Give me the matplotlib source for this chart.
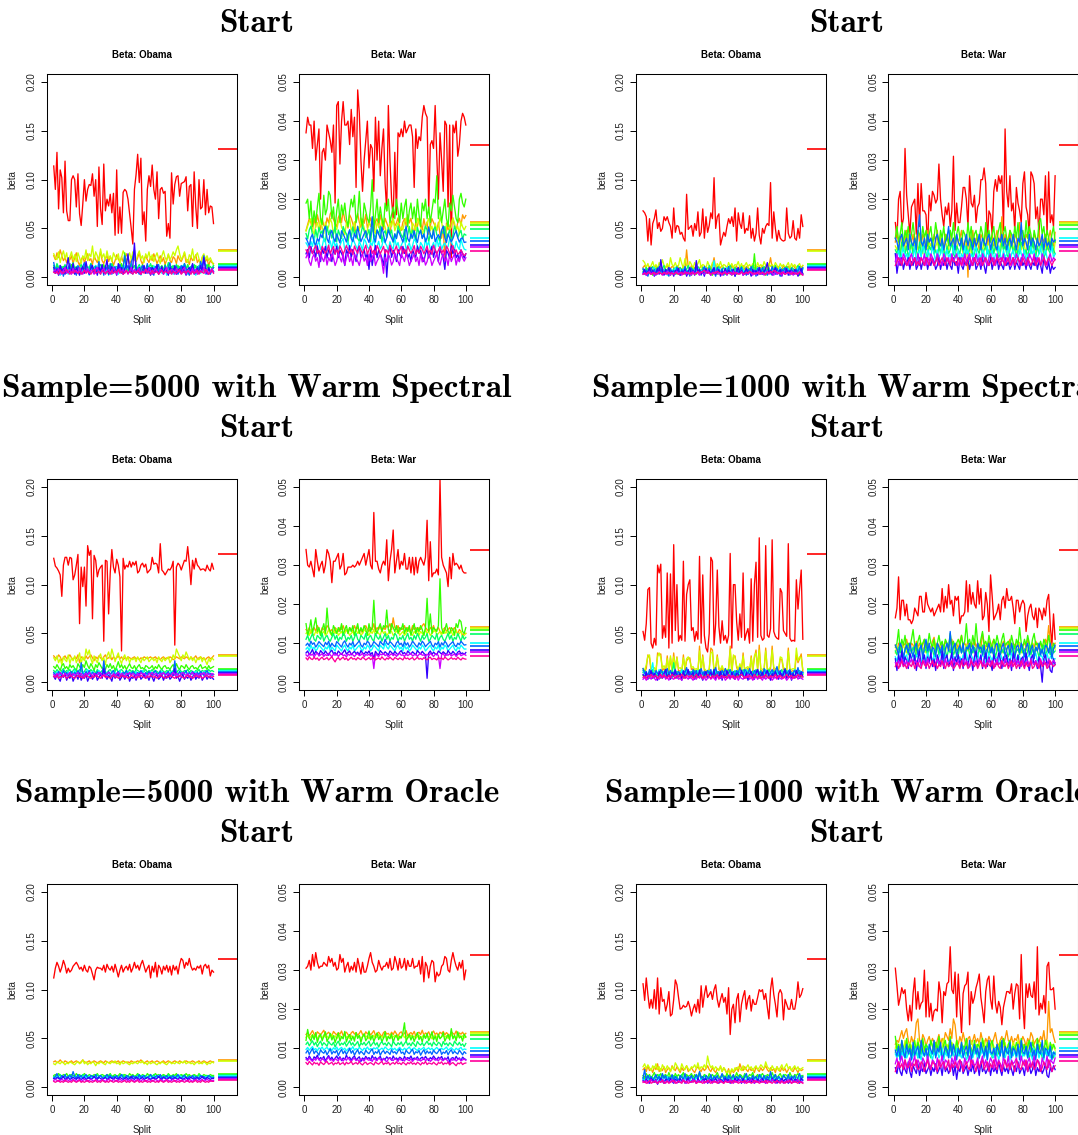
import numpy as np
import matplotlib
matplotlib.use("Agg")
import matplotlib.pyplot as plt

plt.rcParams['font.family'] = ['Liberation Sans', 'DejaVu Sans']

# R rainbow(10) palette, one colour per topic
COLORS = ["#FF0000", "#FF9900", "#CCFF00", "#33FF00", "#00FF66",
          "#00FFFF", "#0066FF", "#3300FF", "#CC00FF", "#FF0099"]

OBAMA_UNIT = 0.001    # Obama values below are in units of 0.001
WAR_UNIT = 0.0001     # War values below are in units of 0.0001

# true beta values (short reference segments at the right)
true_obama = [0.1316, 0.0282, 0.0268, 0.0137, 0.0130, 0.0112, 0.0101, 0.0090, 0.0082, 0.0072]
true_war = [0.0340, 0.0142, 0.0138, 0.0134, 0.0123, 0.0101, 0.0093, 0.0082, 0.0078, 0.0068]

group_titles = [["Start", "Start"],
                ["Sample=5000 with Warm Spectral\nStart", "Sample=1000 with Warm Spectral\nStart"],
                ["Sample=5000 with Warm Oracle\nStart", "Sample=1000 with Warm Oracle\nStart"]]

# ---------------- row 1, left : Obama ----------------
r1l_obama = [
    [114, 90, 128, 70, 110, 102, 66, 119, 68, 58, 58, 100, 104, 100, 72, 106, 65, 53, 75, 100,
     78, 90, 95, 94, 106, 83, 100, 52, 113, 70, 54, 116, 68, 80, 73, 85, 66, 86, 43, 110,
     45, 72, 45, 87, 90, 88, 80, 65, 50, 34, 90, 105, 126, 97, 122, 54, 67, 37, 90, 104,
     93, 115, 90, 80, 108, 60, 90, 92, 86, 88, 42, 55, 40, 107, 75, 95, 103, 104, 83, 96,
     97, 98, 103, 68, 93, 95, 52, 108, 72, 50, 100, 70, 72, 100, 64, 90, 66, 73, 72, 55],
    [22, 18, 25, 20, 28, 22, 17, 20, 15, 19, 18, 22, 14, 20, 25, 16, 12, 18, 21, 15,
     20, 24, 17, 19, 13, 22, 18, 15, 20, 26, 17, 14, 19, 22, 16, 21, 18, 12, 17, 23,
     19, 15, 21, 16, 18, 24, 20, 14, 17, 22, 18, 16, 20, 25, 17, 13, 19, 22, 18, 15,
     21, 17, 24, 19, 14, 18, 22, 16, 20, 13, 18, 23, 17, 15, 21, 19, 14, 22, 18, 16,
     20, 25, 15, 18, 13, 21, 17, 19, 23, 15, 18, 14, 20, 22, 16, 19, 12, 17, 15, 14],
    [24, 20, 18, 26, 15, 22, 27, 19, 25, 14, 21, 26, 18, 23, 16, 25, 20, 14, 22, 19,
     28, 17, 24, 21, 32, 18, 26, 22, 15, 29, 20, 24, 17, 27, 19, 22, 16, 25, 21, 18,
     24, 14, 20, 27, 23, 16, 21, 25, 18, 26, 20, 17, 23, 27, 19, 22, 15, 24, 20, 26,
     18, 23, 16, 21, 25, 19, 14, 22, 27, 20, 17, 24, 18, 21, 26, 22, 28, 32, 24, 18,
     21, 26, 19, 15, 23, 20, 29, 17, 22, 25, 19, 14, 21, 24, 18, 22, 17, 20, 16, 12],
    [10, 6, 12, 8, 5, 9, 11, 7, 4, 10, 8, 13, 6, 9, 5, 11, 7, 10, 4, 8,
     12, 6, 9, 14, 7, 5, 10, 8, 11, 6, 9, 13, 7, 4, 10, 8, 12, 6, 9, 5,
     11, 7, 14, 8, 25, 10, 6, 9, 12, 7, 5, 10, 8, 11, 6, 13, 9, 4, 7, 10,
     8, 12, 6, 9, 11, 5, 8, 10, 7, 13, 6, 9, 4, 11, 8, 10, 7, 12, 6, 9,
     5, 11, 8, 13, 7, 10, 6, 9, 12, 4, 8, 11, 7, 10, 6, 9, 13, 5, 8, 10],
    [12, 8, 14, 10, 6, 11, 9, 13, 7, 10, 12, 8, 15, 9, 11, 6, 10, 13, 8, 12,
     7, 11, 9, 14, 8, 10, 12, 6, 9, 13, 11, 8, 10, 7, 12, 9, 14, 10, 6, 11,
     8, 13, 9, 12, 7, 10, 11, 8, 14, 9, 12, 6, 10, 13, 8, 11, 9, 7, 12, 10,
     14, 8, 11, 9, 13, 6, 10, 12, 8, 11, 9, 15, 7, 10, 12, 8, 13, 9, 11, 6,
     10, 14, 8, 12, 9, 11, 7, 13, 10, 8, 12, 9, 11, 6, 10, 13, 8, 11, 9, 12],
    [8, 4, 10, 6, 2, 7, 9, 5, 11, 3, 8, 6, 12, 4, 7, 9, 3, 10, 6, 8,
     5, 11, 2, 7, 9, 4, 12, 6, 8, 3, 10, 7, 5, 9, 2, 8, 11, 4, 6, 10,
     3, 7, 9, 5, 12, 8, 4, 6, 10, 3, 7, 9, 5, 11, 2, 8, 6, 4, 10, 7,
     9, 3, 12, 5, 8, 6, 10, 4, 7, 9, 2, 11, 6, 8, 3, 10, 5, 7, 9, 4,
     12, 6, 8, 3, 10, 7, 5, 9, 2, 8, 11, 4, 6, 10, 3, 7, 9, 5, 8, 6],
    [15, 6, 10, 3, 12, 8, 1, 11, 5, 9, 14, 4, 10, 7, 2, 12, 8, 5, 11, 15,
     6, 9, 3, 13, 8, 4, 11, 7, 16, 5, 10, 2, 12, 8, 6, 14, 3, 9, 11, 5,
     7, 13, 4, 10, 22, 8, 12, 5, 15, 20, 28, 10, 6, 3, 9, 12, 5, 8, 14, 4,
     10, 7, 2, 11, 9, 13, 5, 8, 3, 12, 6, 10, 15, 4, 9, 7, 11, 3, 8, 12,
     5, 14, 9, 6, 2, 10, 13, 7, 4, 11, 8, 16, 10, 22, 12, 5, 9, 3, 7, 10],
    [10, 4, 8, 2, 12, 6, 9, 3, 11, 20, 5, 7, 14, 3, 10, 6, 2, 8, 11, 4,
     16, 7, 3, 9, 12, 5, 8, 2, 10, 6, 13, 4, 9, 18, 3, 7, 11, 5, 8, 2,
     14, 6, 10, 3, 9, 12, 24, 7, 4, 11, 35, 8, 5, 10, 3, 7, 12, 4, 9, 6,
     2, 10, 8, 5, 13, 3, 7, 11, 4, 9, 6, 2, 10, 8, 5, 12, 3, 7, 9, 4,
     11, 6, 2, 8, 10, 5, 14, 3, 7, 9, 4, 12, 6, 20, 8, 3, 10, 5, 7, 6],
    [6, 8, 4, 9, 5, 3, 7, 10, 4, 6, 8, 3, 9, 5, 7, 4, 10, 6, 3, 8,
     5, 9, 4, 7, 6, 3, 8, 10, 5, 4, 7, 9, 3, 6, 8, 5, 4, 10, 7, 3,
     6, 9, 5, 8, 4, 7, 3, 6, 10, 5, 8, 4, 7, 9, 3, 6, 5, 8, 4, 10,
     7, 3, 6, 9, 5, 4, 8, 7, 3, 6, 10, 5, 4, 8, 7, 3, 9, 6, 5, 4,
     8, 10, 3, 7, 6, 5, 9, 4, 8, 3, 6, 7, 5, 10, 4, 8, 3, 6, 9, 5],
    [5, 4, 6, 3, 7, 5, 4, 6, 8, 5, 3, 6, 4, 7, 5, 4, 6, 3, 5, 7,
     4, 6, 5, 3, 6, 8, 4, 5, 6, 3, 7, 5, 4, 6, 5, 3, 7, 4, 6, 5,
     8, 4, 6, 3, 5, 7, 4, 6, 5, 3, 6, 4, 7, 5, 3, 6, 4, 8, 5, 6,
     3, 7, 4, 5, 6, 3, 5, 7, 4, 6, 5, 4, 7, 3, 6, 5, 4, 6, 8, 3,
     5, 6, 4, 7, 5, 3, 6, 4, 5, 7, 3, 6, 5, 4, 8, 6, 3, 5, 7, 4],
]

# ---------------- row 1, left : War ----------------
r1l_war = [
    [370, 410, 390, 390, 330, 400, 300, 340, 380, 200, 320, 330, 300, 390, 370, 350, 320, 390, 190, 440,
     450, 290, 400, 450, 390, 390, 400, 340, 430, 360, 410, 230, 480, 420, 300, 220, 300, 350, 400, 280,
     340, 330, 220, 410, 300, 400, 260, 330, 380, 240, 170, 440, 300, 200, 150, 320, 160, 370, 360, 380,
     360, 400, 370, 380, 390, 390, 360, 230, 380, 330, 360, 350, 410, 440, 420, 410, 170, 340, 350, 330,
     440, 310, 200, 370, 300, 220, 400, 390, 180, 390, 50, 390, 370, 400, 310, 340, 400, 420, 410, 390],
    [120, 135, 150, 140, 118, 152, 128, 160, 141, 122, 150, 133, 127, 152, 139, 162, 170, 148, 138, 129,
     153, 162, 140, 171, 147, 139, 126, 160, 151, 137, 118, 150, 163, 141, 128, 149, 138, 161, 126, 140,
     152, 131, 119, 142, 150, 128, 160, 141, 122, 151, 139, 128, 110, 142, 150, 131, 139, 152, 128, 120,
     141, 150, 132, 160, 139, 151, 127, 110, 142, 130, 151, 139, 121, 150, 128, 141, 110, 132, 150, 140,
     131, 119, 141, 110, 100, 131, 40, 139, 121, 130, 141, 152, 129, 120, 140, 151, 132, 160, 150, 158],
    [118, 131, 142, 150, 121, 110, 133, 140, 119, 152, 128, 112, 141, 120, 130, 150, 139, 111, 129, 122,
     141, 151, 128, 119, 109, 139, 131, 150, 121, 128, 142, 110, 131, 119, 152, 141, 127, 111, 121, 140,
     130, 151, 119, 112, 140, 131, 119, 150, 141, 128, 110, 121, 142, 130, 151, 119, 131, 140, 112, 129,
     121, 141, 152, 130, 119, 110, 139, 131, 120, 151, 140, 128, 111, 122, 130, 141, 150, 119, 131, 110,
     139, 121, 130, 152, 141, 119, 110, 131, 140, 121, 128, 151, 139, 120, 131, 111, 142, 129, 121, 130],
    [190, 200, 150, 195, 130, 170, 140, 180, 215, 150, 135, 210, 160, 175, 220, 210, 150, 180, 125, 170,
     200, 140, 185, 160, 190, 150, 130, 170, 200, 180, 210, 140, 160, 220, 150, 130, 190, 170, 150, 140,
     180, 250, 120, 160, 200, 140, 180, 150, 130, 190, 170, 200, 140, 160, 180, 150, 200, 170, 140, 190,
     150, 180, 200, 130, 170, 190, 150, 180, 140, 200, 160, 130, 190, 170, 200, 150, 180, 140, 170, 200,
     190, 260, 150, 180, 140, 170, 200, 150, 130, 190, 170, 210, 180, 150, 140, 200, 215, 190, 180, 200],
    [112, 98, 121, 131, 108, 92, 122, 101, 128, 111, 119, 99, 90, 131, 109, 121, 100, 112, 129, 91,
     121, 108, 99, 130, 118, 111, 89, 122, 102, 129, 108, 121, 99, 92, 111, 131, 119, 101, 109, 122,
     91, 129, 111, 98, 121, 109, 131, 90, 112, 119, 101, 128, 110, 121, 89, 111, 99, 131, 119, 108,
     101, 122, 90, 109, 130, 99, 121, 110, 91, 128, 112, 119, 101, 108, 131, 121, 90, 111, 99, 122,
     129, 109, 101, 90, 119, 112, 130, 99, 110, 121, 91, 108, 131, 119, 101, 112, 120, 98, 111, 108],
    [88, 81, 72, 92, 79, 101, 69, 83, 91, 71, 78, 99, 90, 68, 82, 93, 71, 98, 79, 88,
     72, 81, 92, 99, 70, 78, 91, 73, 80, 102, 89, 79, 71, 92, 82, 69, 98, 91, 78, 72,
     89, 81, 101, 70, 79, 92, 72, 80, 99, 88, 81, 69, 91, 78, 72, 101, 79, 89, 70, 82,
     91, 99, 71, 80, 88, 70, 81, 98, 92, 79, 71, 89, 82, 69, 100, 80, 91, 72, 78, 89,
     70, 101, 79, 92, 71, 82, 88, 72, 79, 99, 90, 81, 70, 92, 78, 71, 98, 82, 72, 70],
    [100, 91, 80, 102, 110, 89, 81, 99, 92, 110, 101, 121, 131, 99, 89, 112, 120, 101, 91, 111,
     99, 88, 119, 111, 101, 90, 109, 121, 99, 91, 112, 100, 130, 109, 91, 101, 111, 119, 99, 89,
     111, 155, 101, 90, 121, 111, 99, 129, 110, 89, 101, 121, 109, 100, 91, 111, 99, 120, 111, 101,
     90, 109, 131, 99, 91, 111, 100, 119, 101, 89, 110, 121, 99, 111, 91, 101, 129, 109, 99, 121,
     91, 101, 109, 99, 121, 131, 101, 89, 111, 100, 91, 99, 111, 119, 101, 90, 99, 101, 89, 90],
    [60, 71, 50, 79, 61, 69, 51, 80, 59, 40, 71, 61, 79, 49, 70, 61, 40, 71, 59, 80,
     50, 69, 61, 51, 30, 70, 59, 81, 49, 71, 60, 40, 69, 80, 51, 59, 71, 49, 61, 20,
     70, 30, 59, 81, 50, 69, 61, 49, 30, 71, 0, 59, 80, 51, 69, 61, 40, 71, 59, 50,
     79, 61, 70, 49, 60, 40, 71, 59, 51, 80, 61, 69, 50, 40, 60, 71, 49, 61, 79, 51,
     70, 59, 40, 71, 61, 50, 20, 69, 61, 49, 80, 60, 71, 50, 59, 40, 70, 61, 49, 60],
    [50, 61, 40, 30, 51, 59, 41, 50, 25, 61, 49, 40, 59, 31, 50, 41, 60, 49, 30, 41,
     61, 50, 39, 60, 31, 49, 61, 40, 51, 30, 59, 50, 41, 30, 49, 60, 41, 51, 30, 59,
     40, 51, 61, 30, 41, 49, 60, 39, 10, 51, 40, 59, 50, 31, 40, 61, 49, 40, 30, 59,
     51, 40, 61, 49, 30, 41, 50, 59, 40, 51, 30, 61, 39, 50, 31, 40, 59, 50, 30, 41,
     50, 61, 40, 31, 49, 60, 41, 50, 30, 59, 40, 51, 60, 31, 49, 40, 61, 50, 41, 50],
    [70, 62, 80, 71, 60, 72, 81, 61, 69, 58, 79, 70, 61, 68, 82, 60, 71, 79, 59, 70,
     62, 80, 71, 59, 69, 81, 70, 61, 72, 58, 80, 69, 61, 79, 70, 60, 71, 82, 59, 70,
     80, 61, 69, 58, 81, 72, 60, 69, 79, 61, 70, 59, 82, 71, 60, 70, 80, 61, 69, 79,
     60, 72, 58, 80, 70, 61, 69, 81, 59, 70, 62, 79, 71, 60, 69, 80, 61, 70, 58, 82,
     71, 60, 69, 79, 61, 70, 58, 80, 72, 60, 69, 81, 62, 70, 59, 62, 70, 61, 55, 60],
]

# ---------------- row 1, right : Obama ----------------
r1r_obama = [
    [68, 66, 62, 37, 60, 33, 55, 60, 69, 50, 56, 47, 50, 62, 58, 62, 56, 52, 40, 71,
     46, 53, 52, 44, 46, 40, 37, 85, 49, 51, 53, 42, 55, 48, 67, 42, 46, 70, 40, 62,
     46, 53, 66, 60, 102, 50, 62, 65, 33, 40, 46, 42, 52, 60, 55, 62, 52, 71, 37, 66,
     55, 50, 66, 45, 50, 48, 63, 40, 50, 37, 45, 71, 43, 34, 50, 45, 52, 55, 53, 97,
     40, 67, 50, 37, 48, 40, 38, 37, 38, 71, 45, 40, 42, 58, 40, 38, 50, 40, 64, 52],
    [10, 12, 9, 8, 11, 10, 7, 9, 12, 8, 10, 11, 9, 7, 10, 12, 8, 9, 11, 10,
     8, 12, 9, 10, 7, 11, 9, 28, 10, 8, 12, 9, 10, 11, 8, 9, 12, 10, 7, 11,
     9, 10, 8, 12, 20, 9, 11, 8, 10, 12, 9, 7, 11, 10, 8, 12, 9, 10, 11, 8,
     10, 9, 12, 8, 11, 10, 7, 9, 12, 10, 8, 11, 9, 10, 12, 8, 10, 9, 11, 20,
     10, 8, 12, 9, 11, 10, 8, 12, 9, 10, 11, 8, 9, 12, 10, 8, 11, 9, 10, 12],
    [17, 15, 10, 14, 8, 12, 16, 10, 13, 9, 15, 11, 18, 12, 10, 14, 9, 20, 13, 11,
     15, 10, 12, 20, 14, 9, 19, 12, 10, 16, 13, 9, 15, 11, 14, 18, 10, 13, 12, 9,
     16, 12, 10, 15, 13, 9, 14, 11, 16, 10, 13, 12, 9, 15, 11, 14, 10, 13, 12, 16,
     10, 14, 9, 12, 15, 11, 13, 10, 14, 12, 9, 15, 11, 13, 10, 16, 12, 9, 14, 11,
     13, 10, 15, 12, 9, 14, 11, 13, 10, 12, 15, 9, 14, 11, 13, 10, 12, 14, 9, 12],
    [6, 4, 8, 3, 5, 7, 2, 6, 9, 4, 5, 7, 3, 8, 5, 4, 6, 2, 7, 5,
     9, 3, 6, 4, 8, 5, 3, 7, 4, 6, 2, 8, 5, 3, 7, 4, 6, 9, 3, 5,
     7, 4, 6, 2, 8, 5, 3, 7, 4, 6, 5, 3, 8, 4, 6, 2, 7, 5, 3, 9,
     4, 6, 5, 3, 7, 4, 8, 2, 6, 24, 5, 4, 7, 3, 6, 5, 2, 8, 4, 6,
     3, 7, 5, 4, 6, 2, 8, 5, 3, 7, 4, 6, 5, 3, 8, 4, 6, 2, 5, 4],
    [8, 6, 10, 7, 5, 9, 11, 6, 8, 10, 7, 5, 9, 12, 6, 8, 10, 7, 5, 9,
     8, 11, 6, 10, 7, 5, 9, 8, 12, 6, 10, 7, 9, 5, 11, 8, 6, 10, 7, 9,
     5, 12, 8, 6, 10, 7, 9, 11, 5, 8, 10, 6, 7, 9, 12, 8, 5, 10, 6, 9,
     7, 11, 8, 5, 10, 6, 9, 7, 12, 8, 6, 10, 5, 9, 7, 11, 8, 6, 10, 5,
     9, 7, 12, 8, 6, 10, 5, 9, 7, 11, 8, 6, 10, 9, 5, 7, 12, 8, 6, 9],
    [5, 8, 3, 7, 9, 4, 6, 10, 3, 7, 5, 9, 4, 8, 6, 2, 9, 5, 7, 4,
     10, 6, 3, 8, 5, 9, 4, 7, 3, 10, 6, 4, 8, 5, 9, 3, 7, 6, 4, 10,
     5, 8, 3, 7, 17, 6, 4, 9, 5, 8, 3, 7, 10, 4, 6, 9, 5, 3, 8, 6,
     4, 10, 7, 5, 9, 3, 6, 8, 4, 7, 5, 10, 3, 6, 9, 4, 8, 5, 7, 3,
     6, 9, 4, 8, 5, 10, 3, 7, 6, 4, 9, 5, 8, 3, 7, 6, 10, 4, 5, 8],
    [9, 3, 7, 1, 6, 10, 4, 8, 2, 7, 11, 5, 9, 3, 8, 6, 1, 9, 5, 7,
     3, 10, 6, 2, 8, 5, 11, 4, 7, 1, 9, 6, 3, 10, 5, 8, 2, 7, 11, 4,
     6, 9, 3, 8, 5, 1, 10, 6, 4, 9, 2, 7, 5, 11, 3, 8, 6, 1, 9, 4,
     7, 10, 3, 6, 2, 8, 5, 11, 4, 7, 1, 9, 6, 3, 10, 5, 8, 2, 7, 4,
     11, 6, 3, 9, 5, 1, 8, 6, 10, 4, 7, 2, 9, 5, 3, 8, 6, 11, 4, 10],
    [4, 8, 2, 6, 10, 3, 7, 1, 5, 9, 3, 18, 6, 2, 8, 4, 10, 3, 6, 1,
     7, 5, 9, 2, 6, 4, 8, 1, 5, 10, 3, 7, 2, 17, 5, 8, 3, 6, 1, 9,
     4, 7, 2, 6, 10, 3, 5, 8, 1, 6, 4, 9, 2, 7, 5, 3, 8, 1, 6, 10,
     4, 7, 2, 5, 9, 3, 6, 1, 8, 4, 7, 2, 10, 5, 3, 6, 9, 15, 4, 7,
     2, 6, 10, 3, 5, 8, 1, 6, 4, 9, 2, 7, 5, 3, 8, 6, 1, 4, 9, 3],
    [3, 5, 2, 4, 6, 3, 5, 2, 4, 3, 6, 4, 2, 5, 3, 6, 4, 2, 5, 3,
     4, 6, 3, 5, 2, 4, 6, 3, 5, 4, 2, 6, 3, 5, 4, 2, 6, 4, 3, 5,
     7, 4, 2, 5, 3, 6, 4, 3, 5, 2, 4, 6, 3, 5, 4, 2, 6, 3, 5, 4,
     3, 6, 2, 4, 5, 3, 6, 4, 2, 5, 3, 4, 6, 3, 5, 2, 4, 6, 3, 5,
     4, 2, 6, 3, 5, 4, 2, 6, 3, 4, 5, 3, 6, 2, 4, 5, 3, 6, 4, 3],
    [3, 4, 3, 5, 4, 3, 4, 5, 3, 4, 5, 4, 3, 5, 4, 3, 5, 4, 4, 3,
     5, 4, 3, 4, 5, 3, 4, 5, 4, 3, 5, 4, 3, 4, 6, 4, 5, 6, 7, 5,
     4, 5, 3, 4, 5, 4, 6, 5, 4, 3, 5, 4, 3, 4, 5, 4, 3, 5, 4, 3,
     4, 5, 4, 3, 5, 4, 6, 5, 4, 3, 4, 5, 3, 4, 5, 4, 3, 5, 4, 6,
     5, 7, 6, 5, 4, 3, 5, 4, 3, 4, 5, 4, 3, 5, 4, 3, 4, 5, 3, 2],
]

# ---------------- row 1, right : War ----------------
r1r_war = [
    [140, 100, 200, 220, 130, 150, 330, 210, 160, 110, 180, 190, 200, 110, 240, 130, 240, 170, 170, 160,
     80, 210, 170, 220, 210, 190, 200, 290, 200, 160, 130, 180, 160, 190, 130, 170, 310, 120, 190, 140,
     140, 180, 230, 230, 200, 130, 260, 190, 180, 210, 140, 180, 190, 250, 250, 280, 240, 90, 170, 160,
     110, 220, 250, 220, 260, 240, 260, 120, 380, 220, 180, 260, 170, 190, 120, 230, 190, 170, 140, 240,
     270, 180, 160, 110, 270, 260, 240, 150, 180, 110, 200, 200, 160, 260, 110, 270, 140, 160, 130, 260],
    [90, 130, 80, 100, 110, 70, 90, 120, 80, 100, 90, 110, 70, 100, 120, 90, 80, 110, 100, 70,
     120, 90, 100, 80, 110, 90, 120, 70, 100, 90, 80, 110, 100, 90, 120, 80, 100, 70, 110, 90,
     100, 120, 80, 90, 100, 0, 110, 90, 120, 80, 100, 90, 70, 110, 100, 90, 120, 80, 100, 90,
     110, 80, 100, 120, 90, 100, 155, 80, 110, 90, 100, 120, 80, 90, 110, 100, 70, 140, 100, 90,
     80, 110, 100, 120, 90, 80, 110, 100, 90, 120, 80, 100, 90, 110, 70, 100, 120, 90, 80, 115],
    [80, 70, 90, 60, 100, 80, 70, 90, 110, 70, 80, 60, 90, 100, 70, 80, 90, 60, 100, 80,
     70, 90, 80, 100, 60, 80, 90, 70, 110, 80, 60, 90, 80, 70, 100, 90, 60, 80, 70, 90,
     100, 80, 60, 90, 70, 80, 100, 60, 90, 80, 70, 110, 80, 90, 60, 100, 70, 80, 90, 60,
     80, 100, 70, 90, 60, 80, 110, 70, 90, 80, 60, 100, 80, 70, 90, 60, 80, 100, 70, 90,
     80, 60, 90, 110, 70, 80, 90, 60, 100, 80, 70, 90, 60, 80, 100, 70, 90, 80, 60, 90],
    [100, 130, 90, 110, 140, 80, 120, 100, 130, 90, 110, 140, 100, 80, 120, 110, 90, 130, 100, 120,
     80, 110, 130, 90, 100, 140, 110, 80, 120, 100, 130, 90, 110, 80, 120, 100, 140, 90, 110, 130,
     100, 80, 120, 110, 90, 140, 100, 130, 80, 110, 120, 90, 100, 130, 110, 80, 140, 100, 120, 90,
     110, 130, 80, 100, 120, 140, 90, 110, 130, 100, 80, 120, 110, 90, 130, 100, 140, 80, 110, 120,
     90, 145, 100, 130, 110, 80, 120, 100, 90, 140, 150, 110, 130, 90, 120, 100, 80, 110, 130, 90],
    [70, 60, 80, 50, 90, 70, 60, 80, 50, 70, 90, 60, 80, 70, 50, 90, 60, 70, 80, 60,
     50, 80, 70, 90, 60, 70, 50, 80, 60, 90, 70, 50, 80, 60, 70, 90, 60, 50, 80, 70,
     60, 90, 70, 50, 80, 60, 70, 90, 50, 60, 80, 70, 60, 90, 50, 70, 80, 60, 70, 50,
     90, 60, 80, 70, 50, 60, 90, 70, 80, 60, 50, 70, 90, 60, 80, 50, 70, 60, 90, 80,
     60, 70, 50, 80, 60, 90, 70, 50, 80, 60, 70, 90, 50, 60, 80, 70, 60, 90, 70, 60],
    [60, 50, 70, 40, 60, 80, 50, 60, 40, 70, 60, 50, 80, 40, 60, 70, 50, 90, 60, 40,
     70, 60, 50, 80, 60, 40, 70, 50, 60, 80, 40, 60, 70, 50, 60, 40, 80, 60, 50, 70,
     40, 60, 50, 80, 60, 70, 40, 60, 50, 70, 80, 40, 60, 50, 70, 60, 40, 80, 50, 60,
     70, 40, 60, 50, 80, 60, 40, 70, 50, 60, 80, 40, 60, 70, 50, 60, 40, 80, 60, 50,
     70, 40, 60, 50, 80, 60, 70, 40, 50, 60, 80, 40, 60, 70, 50, 40, 60, 80, 50, 60],
    [100, 90, 70, 100, 110, 80, 90, 100, 70, 110, 90, 80, 100, 70, 120, 160, 90, 80, 100, 70,
     110, 90, 100, 80, 70, 100, 110, 90, 80, 100, 70, 90, 100, 130, 80, 90, 100, 70, 110, 90,
     80, 100, 70, 90, 110, 80, 100, 90, 70, 100, 80, 90, 110, 70, 100, 90, 80, 100, 110, 70,
     90, 100, 80, 70, 100, 90, 110, 80, 100, 70, 90, 100, 80, 110, 90, 70, 100, 90, 140, 80,
     100, 90, 70, 110, 80, 100, 90, 70, 100, 80, 90, 110, 70, 100, 80, 90, 70, 100, 90, 95],
    [60, 10, 40, 30, 50, 20, 40, 30, 50, 20, 40, 30, 50, 20, 30, 50, 20, 40, 30, 50,
     20, 40, 30, 50, 40, 20, 30, 50, 20, 40, 30, 50, 20, 40, 30, 20, 50, 30, 40, 10,
     50, 30, 20, 40, 30, 50, 20, 40, 30, 50, 20, 30, 40, 20, 50, 30, 10, 40, 30, 50,
     20, 40, 30, 50, 20, 40, 30, 20, 50, 30, 40, 20, 30, 50, 20, 40, 30, 20, 50, 30,
     40, 20, 50, 30, 20, 40, 30, 50, 20, 40, 30, 10, 50, 30, 20, 40, 10, 30, 20, 25],
    [40, 60, 30, 50, 40, 60, 50, 40, 30, 50, 60, 40, 50, 30, 60, 40, 50, 40, 60, 30,
     50, 40, 60, 50, 30, 40, 60, 50, 40, 30, 60, 50, 40, 50, 30, 60, 40, 50, 60, 30,
     40, 50, 30, 60, 40, 50, 60, 30, 50, 40, 60, 40, 50, 30, 60, 50, 40, 30, 50, 60,
     40, 50, 30, 60, 40, 50, 40, 60, 30, 50, 40, 60, 30, 50, 40, 60, 50, 30, 40, 60,
     50, 40, 30, 60, 50, 40, 60, 30, 50, 40, 30, 60, 50, 40, 30, 50, 60, 40, 50, 45],
    [30, 40, 50, 40, 30, 50, 40, 30, 40, 50, 30, 40, 50, 30, 40, 30, 50, 40, 30, 50,
     40, 30, 50, 40, 30, 40, 50, 30, 40, 50, 40, 30, 50, 40, 30, 50, 40, 40, 30, 50,
     40, 30, 50, 40, 30, 40, 50, 40, 30, 50, 40, 30, 40, 50, 30, 40, 50, 40, 30, 40,
     50, 30, 40, 50, 40, 30, 50, 40, 30, 40, 50, 30, 40, 50, 30, 40, 50, 40, 30, 50,
     40, 30, 50, 40, 30, 40, 50, 30, 40, 50, 30, 40, 50, 30, 40, 50, 40, 30, 40, 45],
]

# ---------------- row 2, left : Obama ----------------
r2l_obama = [
    [127, 119, 117, 114, 110, 88, 120, 128, 128, 120, 128, 127, 105, 110, 120, 131, 60, 118, 98, 118,
     78, 140, 130, 135, 65, 130, 125, 108, 115, 118, 120, 42, 125, 124, 70, 112, 136, 118, 112, 126,
     120, 108, 32, 127, 116, 120, 118, 124, 118, 123, 120, 124, 112, 114, 120, 122, 118, 121, 112, 114,
     116, 128, 121, 122, 121, 112, 142, 115, 113, 110, 113, 116, 115, 118, 124, 38, 118, 122, 120, 115,
     120, 125, 124, 139, 122, 100, 125, 116, 127, 120, 118, 115, 116, 116, 114, 120, 116, 114, 122, 116],
    [27, 25, 24, 28, 26, 22, 25, 27, 24, 26, 28, 25, 23, 26, 24, 28, 20, 26, 25, 23,
     27, 24, 26, 28, 25, 22, 26, 24, 27, 25, 23, 26, 28, 24, 25, 27, 23, 26, 24, 25,
     27, 24, 26, 23, 25, 24, 26, 25, 24, 25, 26, 24, 25, 23, 25, 24, 26, 25, 24, 25,
     26, 24, 25, 26, 24, 25, 23, 25, 26, 24, 25, 24, 26, 25, 23, 24, 26, 25, 24, 26,
     25, 24, 26, 25, 23, 26, 24, 25, 27, 24, 25, 26, 24, 25, 23, 25, 26, 24, 25, 27],
    [25, 22, 27, 20, 24, 18, 26, 23, 21, 28, 19, 25, 22, 27, 20, 24, 30, 19, 26, 22,
     34, 28, 33, 24, 19, 27, 23, 20, 26, 29, 22, 25, 18, 27, 31, 24, 34, 28, 21, 26,
     30, 23, 19, 25, 28, 22, 26, 20, 24, 23, 25, 21, 26, 23, 20, 25, 22, 24, 26, 21,
     23, 25, 22, 24, 20, 26, 23, 21, 25, 22, 24, 26, 20, 23, 28, 24, 34, 30, 26, 22,
     28, 25, 31, 27, 23, 26, 22, 25, 20, 24, 23, 26, 21, 25, 22, 18, 24, 21, 25, 23],
    [16, 14, 18, 15, 12, 17, 19, 14, 16, 13, 18, 15, 17, 14, 12, 19, 16, 13, 18, 15,
     22, 17, 14, 19, 16, 12, 18, 15, 20, 17, 14, 16, 13, 18, 15, 19, 14, 17, 12, 16,
     21, 15, 18, 14, 17, 13, 16, 19, 15, 14, 17, 13, 16, 18, 14, 15, 13, 17, 16, 14,
     15, 17, 13, 16, 14, 18, 15, 13, 16, 17, 14, 15, 13, 16, 18, 14, 19, 15, 13, 17,
     16, 14, 18, 15, 13, 16, 17, 14, 15, 13, 16, 18, 14, 15, 16, 13, 17, 14, 15, 16],
    [12, 10, 13, 11, 9, 12, 14, 10, 12, 11, 13, 9, 12, 14, 11, 10, 13, 12, 9, 11,
     14, 12, 10, 13, 11, 12, 9, 13, 11, 10, 12, 14, 11, 9, 12, 13, 10, 12, 11, 14,
     10, 12, 13, 11, 9, 12, 10, 13, 11, 12, 10, 13, 12, 11, 9, 12, 11, 13, 10, 12,
     11, 13, 10, 12, 11, 9, 12, 13, 11, 10, 12, 11, 13, 10, 12, 11, 9, 12, 13, 11,
     10, 12, 11, 13, 10, 12, 11, 9, 12, 11, 13, 10, 12, 11, 12, 10, 13, 11, 12, 11],
    [9, 7, 11, 8, 5, 10, 12, 7, 9, 11, 6, 10, 8, 12, 7, 9, 10, 6, 11, 8,
     10, 13, 7, 9, 11, 8, 6, 10, 12, 9, 7, 11, 8, 10, 9, 6, 11, 8, 10, 7,
     9, 12, 8, 10, 7, 9, 11, 8, 10, 9, 7, 11, 8, 10, 9, 12, 8, 10, 7, 9,
     11, 8, 10, 9, 7, 10, 8, 11, 9, 7, 10, 8, 9, 11, 7, 10, 9, 8, 11, 10,
     8, 9, 11, 7, 10, 9, 8, 10, 11, 7, 9, 10, 8, 11, 9, 7, 10, 9, 8, 8],
    [10, 8, 6, 11, 9, 7, 12, 8, 10, 6, 9, 11, 7, 10, 8, 12, 6, 20, 9, 7,
     11, 8, 12, 6, 10, 9, 7, 11, 8, 10, 6, 22, 9, 7, 11, 8, 10, 12, 7, 9,
     11, 8, 6, 10, 9, 12, 7, 10, 8, 11, 9, 7, 10, 8, 12, 9, 6, 10, 8, 11,
     9, 7, 10, 12, 8, 9, 11, 7, 10, 8, 9, 11, 7, 10, 8, 22, 9, 7, 11, 8,
     10, 9, 12, 7, 10, 8, 11, 9, 7, 10, 8, 11, 9, 7, 10, 12, 8, 9, 7, 8],
    [6, 3, 8, 4, 1, 7, 5, 9, 2, 6, 4, 8, 1, 5, 7, 3, 9, 2, 6, 4,
     8, 1, 5, 7, 3, 6, 9, 2, 5, 8, 4, 14, 6, 3, 7, 5, 1, 8, 4, 6,
     9, 2, 5, 7, 3, 6, 8, 1, 5, 4, 7, 2, 6, 9, 3, 5, 8, 4, 6, 2,
     7, 5, 1, 6, 8, 3, 5, 7, 2, 6, 4, 8, 3, 5, 7, 14, 4, 6, 1, 5,
     8, 3, 6, 4, 7, 2, 5, 9, 3, 6, 4, 8, 2, 5, 7, 3, 6, 4, 5, 3],
    [8, 6, 9, 7, 10, 8, 6, 9, 7, 8, 10, 6, 9, 7, 8, 10, 7, 9, 6, 8,
     9, 7, 10, 8, 6, 9, 8, 7, 10, 9, 6, 8, 7, 9, 10, 8, 6, 9, 7, 8,
     10, 7, 9, 8, 6, 9, 8, 10, 7, 9, 8, 6, 9, 7, 10, 8, 9, 7, 6, 9,
     8, 10, 7, 9, 8, 6, 9, 8, 10, 7, 8, 9, 6, 8, 10, 7, 9, 8, 6, 9,
     10, 8, 7, 9, 6, 8, 10, 7, 9, 8, 6, 9, 8, 10, 7, 9, 8, 7, 9, 8],
    [6, 5, 7, 4, 6, 5, 7, 6, 4, 5, 7, 6, 5, 4, 6, 7, 5, 6, 4, 5,
     7, 6, 5, 4, 6, 5, 7, 6, 5, 4, 6, 7, 5, 6, 5, 4, 6, 7, 5, 6,
     4, 5, 7, 6, 5, 6, 4, 5, 7, 6, 5, 4, 6, 5, 7, 6, 5, 4, 6, 5,
     7, 6, 5, 6, 4, 5, 7, 6, 5, 4, 6, 5, 7, 6, 5, 4, 6, 5, 7, 6,
     5, 4, 6, 7, 5, 6, 4, 5, 7, 6, 5, 6, 4, 5, 6, 7, 5, 6, 5, 6],
]

# ---------------- row 2, left : War ----------------
r2l_war = [
    [340, 300, 295, 310, 290, 270, 340, 310, 285, 300, 310, 280, 300, 340, 330, 310, 255, 310, 310, 320,
     330, 290, 300, 330, 275, 280, 295, 295, 295, 300, 295, 300, 310, 300, 310, 320, 330, 300, 320, 340,
     300, 290, 435, 310, 310, 290, 280, 300, 310, 300, 365, 260, 310, 340, 390, 280, 310, 340, 290, 310,
     300, 330, 290, 290, 320, 280, 320, 275, 320, 280, 310, 320, 310, 300, 320, 415, 260, 360, 270, 280,
     280, 290, 275, 520, 320, 300, 290, 280, 245, 320, 265, 330, 300, 305, 300, 290, 300, 285, 280, 280],
    [135, 130, 140, 125, 135, 140, 130, 145, 135, 125, 140, 135, 130, 145, 140, 130, 135, 125, 140, 135,
     130, 140, 135, 145, 130, 135, 125, 140, 135, 130, 145, 135, 140, 130, 135, 125, 140, 145, 135, 130,
     140, 135, 150, 130, 140, 135, 145, 130, 140, 135, 145, 140, 150, 135, 165, 140, 135, 145, 130, 140,
     135, 145, 130, 140, 135, 130, 145, 135, 140, 130, 140, 135, 145, 150, 140, 135, 130, 140, 135, 145,
     130, 135, 140, 130, 125, 135, 140, 130, 135, 140, 130, 135, 140, 130, 125, 135, 130, 120, 125, 125],
    [125, 130, 120, 135, 125, 120, 130, 125, 135, 120, 125, 130, 120, 125, 135, 125, 120, 130, 125, 135,
     120, 125, 130, 120, 125, 135, 130, 120, 125, 130, 120, 135, 125, 130, 120, 125, 135, 130, 125, 120,
     130, 125, 135, 120, 130, 125, 120, 135, 125, 130, 120, 125, 135, 130, 120, 125, 130, 135, 120, 125,
     130, 120, 125, 135, 130, 125, 120, 130, 125, 135, 120, 130, 125, 120, 135, 125, 130, 120, 125, 130,
     135, 120, 125, 130, 120, 135, 125, 130, 120, 125, 130, 120, 125, 135, 120, 125, 130, 115, 120, 125],
    [150, 120, 135, 160, 125, 145, 165, 130, 140, 120, 135, 150, 125, 190, 140, 130, 120, 145, 135, 125,
     140, 130, 150, 120, 135, 145, 125, 140, 130, 145, 120, 135, 150, 125, 140, 130, 145, 135, 120, 150,
     130, 140, 210, 135, 125, 140, 150, 130, 145, 140, 185, 135, 125, 150, 140, 130, 145, 125, 140, 135,
     150, 125, 140, 130, 145, 120, 135, 150, 125, 140, 130, 145, 135, 120, 140, 215, 130, 175, 125, 140,
     135, 130, 145, 265, 140, 125, 135, 150, 130, 125, 140, 135, 120, 150, 140, 160, 155, 130, 125, 140],
    [110, 120, 105, 115, 125, 110, 105, 120, 115, 110, 125, 105, 115, 120, 110, 105, 115, 125, 110, 120,
     105, 115, 110, 125, 120, 105, 115, 110, 120, 105, 115, 125, 110, 105, 120, 115, 110, 125, 105, 115,
     120, 110, 105, 125, 115, 110, 120, 105, 115, 125, 110, 120, 105, 115, 110, 125, 120, 105, 115, 110,
     120, 105, 115, 125, 110, 115, 105, 120, 110, 125, 115, 105, 120, 110, 115, 125, 105, 110, 120, 115,
     110, 125, 105, 115, 120, 110, 105, 115, 125, 110, 120, 105, 115, 110, 125, 115, 105, 120, 110, 115],
    [85, 90, 80, 95, 85, 90, 80, 85, 95, 90, 85, 80, 90, 85, 95, 80, 90, 85, 80, 95,
     90, 85, 80, 90, 95, 85, 80, 90, 85, 95, 80, 85, 90, 95, 85, 80, 90, 85, 95, 90,
     80, 85, 95, 90, 85, 80, 95, 90, 85, 100, 90, 85, 95, 90, 85, 80, 90, 95, 85, 90,
     80, 95, 85, 90, 80, 85, 95, 90, 85, 80, 90, 85, 95, 90, 80, 85, 90, 95, 85, 80,
     90, 85, 95, 80, 90, 85, 95, 90, 80, 85, 90, 95, 85, 80, 90, 85, 95, 90, 85, 85],
    [95, 100, 92, 105, 97, 101, 90, 96, 104, 99, 95, 91, 102, 96, 105, 90, 100, 94, 91, 104,
     100, 95, 90, 101, 106, 96, 90, 100, 95, 104, 91, 96, 101, 106, 95, 90, 100, 96, 105, 101,
     90, 95, 104, 100, 96, 91, 105, 99, 95, 110, 100, 96, 104, 100, 95, 90, 101, 105, 96, 100,
     91, 104, 95, 101, 90, 96, 105, 100, 94, 90, 101, 95, 105, 100, 91, 96, 100, 105, 95, 90,
     100, 96, 104, 90, 101, 95, 105, 100, 90, 96, 100, 104, 95, 91, 100, 96, 105, 100, 95, 96],
    [75, 80, 70, 76, 84, 71, 79, 75, 70, 81, 76, 72, 80, 74, 69, 78, 82, 73, 76, 70,
     80, 75, 71, 77, 83, 72, 76, 80, 70, 75, 79, 73, 77, 70, 81, 75, 72, 78, 74, 80,
     71, 76, 60, 79, 73, 70, 81, 76, 72, 78, 74, 70, 80, 76, 71, 79, 74, 70, 77, 81,
     73, 76, 70, 80, 75, 72, 78, 74, 70, 81, 76, 72, 79, 74, 70, 10, 75, 80, 71, 77,
     73, 70, 80, 76, 72, 78, 74, 70, 81, 75, 72, 79, 74, 70, 77, 80, 73, 75, 71, 76],
    [70, 66, 74, 69, 72, 65, 71, 75, 67, 70, 73, 66, 71, 68, 74, 70, 65, 72, 69, 73,
     66, 71, 74, 68, 70, 65, 72, 69, 74, 70, 66, 71, 73, 68, 70, 74, 65, 71, 69, 72,
     67, 70, 35, 73, 69, 66, 72, 70, 74, 68, 71, 65, 70, 73, 68, 72, 66, 71, 74, 69,
     70, 66, 73, 68, 71, 74, 67, 70, 72, 66, 71, 74, 69, 70, 66, 72, 68, 74, 70, 66,
     71, 73, 68, 35, 70, 74, 66, 71, 69, 73, 67, 70, 72, 66, 71, 74, 68, 70, 72, 69],
    [62, 57, 65, 60, 58, 64, 59, 62, 56, 61, 64, 58, 60, 63, 57, 61, 65, 58, 52, 60,
     63, 57, 61, 64, 58, 62, 56, 60, 64, 59, 61, 57, 63, 60, 58, 64, 61, 57, 60, 63,
     58, 61, 64, 57, 60, 62, 58, 65, 60, 57, 62, 59, 64, 60, 57, 63, 61, 58, 62, 60,
     57, 64, 60, 62, 58, 61, 63, 57, 60, 64, 59, 61, 58, 63, 60, 57, 62, 64, 58, 61,
     60, 57, 63, 60, 62, 58, 64, 61, 57, 60, 63, 59, 61, 58, 64, 60, 57, 62, 60, 59],
]

# ---------------- row 2, right : Obama ----------------
r2r_obama = [
    [52, 43, 60, 95, 97, 40, 35, 45, 38, 120, 112, 121, 45, 58, 46, 112, 35, 111, 40, 141,
     53, 100, 42, 48, 43, 124, 42, 90, 100, 105, 53, 56, 42, 52, 44, 129, 40, 110, 48, 35,
     31, 50, 128, 124, 38, 60, 115, 57, 40, 63, 43, 48, 40, 48, 132, 35, 100, 100, 62, 43,
     70, 46, 112, 43, 50, 55, 40, 106, 42, 100, 123, 46, 148, 48, 43, 45, 140, 48, 46, 55,
     146, 52, 47, 45, 44, 96, 92, 53, 50, 47, 142, 45, 42, 43, 42, 105, 75, 96, 115, 44],
    [12, 10, 14, 28, 25, 11, 9, 12, 10, 30, 28, 29, 12, 14, 11, 27, 10, 25, 11, 30,
     13, 26, 11, 12, 10, 28, 12, 22, 24, 25, 13, 14, 11, 12, 10, 37, 11, 28, 12, 10,
     9, 12, 35, 33, 10, 14, 28, 13, 11, 15, 10, 12, 10, 12, 37, 9, 26, 27, 15, 11,
     17, 12, 30, 11, 13, 14, 10, 27, 11, 25, 33, 12, 38, 12, 11, 12, 35, 12, 11, 14,
     37, 13, 12, 11, 12, 24, 23, 13, 12, 11, 35, 12, 11, 12, 11, 28, 20, 24, 29, 11],
    [14, 12, 18, 27, 28, 13, 11, 15, 12, 26, 30, 25, 14, 17, 13, 24, 12, 27, 13, 26,
     15, 25, 14, 15, 12, 25, 14, 24, 26, 22, 15, 16, 13, 14, 12, 32, 13, 26, 14, 12,
     11, 14, 30, 31, 12, 16, 26, 15, 13, 17, 12, 14, 12, 14, 33, 11, 28, 25, 17, 13,
     19, 14, 27, 13, 15, 16, 12, 25, 13, 27, 30, 14, 33, 14, 13, 14, 32, 14, 13, 16,
     33, 15, 14, 13, 14, 26, 25, 15, 14, 13, 32, 14, 13, 14, 13, 35, 22, 26, 25, 13],
    [7, 5, 9, 6, 4, 8, 10, 5, 7, 9, 6, 4, 8, 11, 5, 7, 9, 6, 4, 8,
     7, 10, 5, 9, 6, 4, 8, 7, 11, 5, 9, 6, 8, 4, 10, 7, 5, 9, 6, 8,
     4, 11, 7, 5, 9, 6, 8, 10, 4, 7, 9, 5, 6, 8, 11, 7, 4, 9, 5, 8,
     6, 10, 7, 4, 9, 5, 8, 6, 11, 7, 5, 9, 4, 8, 6, 10, 7, 5, 9, 4,
     8, 6, 11, 7, 5, 9, 4, 8, 6, 10, 7, 5, 9, 8, 4, 6, 11, 7, 5, 8],
    [10, 12, 8, 7, 11, 9, 13, 8, 10, 7, 12, 9, 11, 8, 13, 10, 7, 12, 9, 20,
     8, 11, 10, 7, 12, 9, 8, 13, 10, 7, 11, 9, 12, 8, 10, 13, 7, 9, 11, 8,
     12, 10, 7, 9, 13, 8, 11, 10, 7, 12, 9, 8, 11, 13, 10, 7, 9, 12, 8, 11,
     10, 7, 13, 9, 8, 12, 10, 7, 11, 9, 13, 8, 10, 12, 7, 9, 11, 8, 13, 10,
     7, 12, 9, 11, 8, 10, 13, 7, 9, 12, 8, 11, 10, 7, 13, 9, 8, 12, 10, 9],
    [12, 8, 10, 6, 9, 11, 20, 7, 10, 8, 13, 6, 9, 11, 7, 10, 8, 12, 5, 9,
     11, 7, 10, 8, 13, 6, 9, 12, 7, 10, 8, 11, 6, 9, 12, 7, 10, 8, 11, 6,
     9, 12, 7, 10, 8, 13, 6, 9, 11, 7, 10, 8, 12, 6, 9, 11, 7, 10, 8, 12,
     6, 9, 11, 7, 13, 8, 10, 6, 9, 12, 7, 10, 8, 11, 6, 9, 13, 7, 10, 8,
     11, 6, 9, 12, 7, 10, 8, 11, 6, 9, 12, 7, 10, 8, 13, 6, 9, 11, 7, 10],
    [14, 9, 11, 6, 13, 8, 10, 4, 12, 9, 7, 13, 10, 5, 11, 14, 8, 12, 6, 10,
     13, 7, 11, 9, 4, 12, 10, 15, 8, 11, 6, 13, 9, 12, 5, 10, 14, 8, 11, 7,
     12, 9, 13, 6, 10, 15, 8, 11, 4, 12, 9, 14, 7, 10, 13, 8, 11, 6, 12, 9,
     15, 10, 7, 13, 11, 8, 14, 9, 6, 12, 10, 13, 8, 11, 5, 14, 9, 12, 7, 10,
     13, 8, 11, 16, 9, 12, 6, 10, 14, 8, 11, 13, 7, 10, 12, 9, 15, 8, 11, 10],
    [8, 5, 10, 3, 7, 12, 4, 9, 6, 2, 11, 7, 4, 9, 13, 5, 8, 3, 10, 6,
     12, 4, 7, 9, 2, 11, 6, 8, 13, 4, 7, 10, 3, 9, 5, 12, 6, 2, 8, 11,
     4, 7, 10, 5, 13, 3, 8, 6, 11, 2, 9, 5, 12, 7, 4, 10, 6, 3, 9, 8,
     5, 12, 7, 4, 10, 2, 8, 11, 6, 3, 9, 13, 5, 7, 10, 4, 8, 12, 6, 2,
     9, 5, 11, 7, 3, 10, 6, 8, 13, 4, 7, 11, 2, 9, 5, 12, 8, 4, 10, 6],
    [3, 5, 2, 4, 6, 3, 7, 4, 2, 5, 3, 6, 4, 8, 3, 5, 2, 6, 4, 3,
     5, 7, 3, 4, 2, 6, 4, 5, 3, 7, 4, 2, 5, 3, 6, 4, 8, 3, 5, 2,
     4, 6, 3, 5, 4, 2, 7, 3, 5, 4, 6, 2, 4, 5, 3, 7, 4, 3, 6, 2,
     5, 4, 3, 6, 4, 8, 3, 5, 2, 4, 6, 3, 5, 4, 2, 7, 3, 5, 4, 6,
     2, 4, 5, 3, 7, 4, 3, 6, 5, 2, 4, 6, 3, 5, 4, 7, 3, 5, 4, 3],
    [5, 6, 4, 7, 6, 8, 5, 6, 7, 4, 6, 8, 5, 7, 6, 4, 7, 5, 8, 6,
     4, 6, 7, 5, 8, 6, 4, 7, 6, 5, 7, 4, 6, 8, 5, 6, 7, 4, 6, 5,
     8, 6, 4, 7, 5, 6, 8, 4, 6, 7, 5, 6, 4, 8, 6, 5, 7, 4, 6, 5,
     7, 8, 6, 4, 6, 5, 7, 6, 4, 8, 6, 5, 7, 4, 6, 5, 8, 6, 4, 7,
     5, 6, 8, 4, 6, 7, 5, 4, 6, 8, 5, 6, 7, 4, 6, 5, 8, 6, 7, 5],
]

# ---------------- row 2, right : War ----------------
r2r_war = [
    [165, 190, 270, 160, 210, 210, 170, 200, 160, 160, 150, 160, 190, 180, 170, 220, 220, 180, 180, 230,
     200, 190, 180, 190, 170, 180, 190, 200, 180, 240, 180, 220, 190, 250, 200, 210, 170, 220, 210, 220,
     150, 170, 170, 180, 260, 180, 250, 200, 230, 200, 190, 260, 200, 240, 160, 170, 230, 200, 130, 275,
     220, 160, 170, 180, 200, 160, 210, 220, 190, 240, 210, 210, 220, 190, 150, 210, 210, 180, 200, 210,
     200, 130, 170, 190, 200, 170, 160, 190, 140, 190, 180, 160, 190, 170, 210, 225, 145, 95, 175, 110],
    [95, 80, 100, 90, 85, 100, 95, 110, 90, 85, 100, 95, 80, 105, 90, 100, 85, 95, 110, 90,
     100, 95, 85, 105, 115, 90, 100, 95, 85, 100, 90, 105, 95, 85, 100, 110, 90, 95, 100, 85,
     105, 120, 95, 100, 90, 105, 85, 100, 95, 110, 90, 100, 95, 85, 125, 100, 90, 95, 105, 85,
     100, 110, 95, 90, 100, 85, 95, 105, 90, 100, 95, 110, 85, 100, 95, 90, 105, 100, 85, 95,
     100, 90, 110, 95, 85, 100, 90, 105, 95, 85, 100, 95, 90, 110, 100, 145, 105, 90, 95, 100],
    [75, 90, 85, 100, 80, 95, 85, 75, 90, 100, 80, 85, 95, 75, 90, 85, 100, 80, 90, 75,
     85, 95, 80, 90, 100, 75, 85, 90, 80, 95, 85, 75, 100, 90, 80, 85, 95, 75, 90, 80,
     100, 85, 90, 75, 95, 80, 85, 100, 90, 75, 85, 95, 80, 90, 75, 100, 85, 80, 95, 90,
     75, 85, 100, 80, 90, 95, 75, 85, 90, 80, 100, 85, 75, 95, 90, 80, 85, 100, 75, 90,
     85, 80, 95, 90, 75, 100, 85, 80, 90, 95, 75, 85, 90, 100, 80, 85, 95, 75, 90, 85],
    [90, 100, 135, 80, 110, 95, 120, 85, 100, 90, 110, 135, 95, 80, 105, 120, 90, 100, 110, 85,
     95, 125, 100, 90, 110, 80, 100, 120, 95, 105, 85, 110, 100, 90, 125, 95, 105, 85, 100, 110,
     95, 120, 90, 105, 150, 100, 110, 90, 120, 95, 150, 100, 85, 110, 130, 95, 105, 90, 120, 100,
     85, 110, 95, 120, 100, 90, 110, 125, 95, 100, 105, 90, 120, 100, 85, 110, 95, 140, 100, 90,
     110, 95, 120, 100, 85, 110, 125, 95, 100, 90, 105, 85, 110, 100, 90, 120, 95, 80, 100, 90],
    [80, 70, 90, 75, 85, 65, 80, 95, 70, 85, 75, 90, 80, 65, 85, 75, 95, 70, 80, 85,
     70, 90, 75, 85, 65, 80, 95, 70, 85, 75, 90, 80, 65, 85, 75, 95, 70, 80, 85, 70,
     90, 75, 85, 65, 80, 95, 70, 85, 75, 90, 80, 65, 85, 75, 95, 70, 80, 85, 70, 90,
     75, 85, 65, 80, 95, 70, 85, 75, 90, 80, 65, 85, 75, 95, 70, 80, 85, 70, 90, 75,
     85, 65, 80, 95, 70, 85, 75, 90, 80, 65, 85, 75, 95, 70, 80, 85, 70, 90, 75, 80],
    [65, 55, 70, 60, 75, 55, 65, 70, 50, 65, 60, 75, 55, 70, 65, 60, 50, 70, 65, 55,
     75, 60, 65, 55, 70, 60, 50, 65, 75, 60, 55, 70, 65, 50, 60, 75, 65, 55, 70, 60,
     65, 50, 70, 60, 75, 55, 65, 70, 60, 50, 65, 75, 55, 60, 70, 65, 50, 60, 75, 65,
     55, 70, 60, 65, 50, 75, 60, 55, 70, 65, 60, 50, 75, 65, 55, 60, 70, 65, 50, 60,
     75, 55, 65, 70, 60, 50, 65, 75, 55, 60, 70, 65, 50, 60, 75, 55, 65, 70, 60, 60],
    [95, 85, 70, 100, 90, 60, 85, 95, 75, 100, 80, 65, 90, 100, 70, 85, 95, 60, 90, 110,
     80, 100, 70, 90, 85, 65, 100, 90, 75, 95, 60, 85, 100, 80, 130, 70, 90, 100, 65, 85,
     95, 75, 100, 60, 90, 85, 100, 70, 95, 80, 65, 100, 85, 90, 70, 95, 60, 85, 100, 75,
     90, 65, 95, 100, 80, 70, 90, 100, 65, 85, 95, 70, 100, 80, 60, 90, 95, 75, 100, 85,
     65, 90, 100, 70, 85, 95, 60, 90, 80, 100, 70, 85, 65, 95, 90, 75, 100, 60, 85, 95],
    [60, 30, 70, 50, 80, 40, 65, 55, 35, 75, 60, 45, 70, 30, 60, 80, 40, 55, 70, 35,
     65, 50, 75, 40, 60, 30, 70, 55, 45, 80, 35, 60, 70, 40, 55, 75, 30, 65, 50, 70,
     45, 60, 35, 75, 55, 40, 70, 60, 30, 65, 80, 45, 55, 70, 35, 60, 75, 40, 65, 50,
     30, 70, 55, 45, 75, 60, 35, 65, 50, 70, 40, 60, 30, 75, 55, 45, 70, 35, 60, 65,
     40, 75, 50, 30, 60, 70, 45, 55, 35, 65, 40, 0, 60, 70, 45, 55, 30, 25, 60, 45],
    [50, 45, 55, 40, 60, 50, 45, 55, 40, 50, 60, 45, 50, 55, 40, 60, 45, 50, 55, 40,
     60, 50, 45, 55, 40, 50, 60, 45, 55, 50, 40, 60, 45, 50, 55, 40, 60, 50, 45, 55,
     40, 50, 60, 45, 55, 50, 40, 60, 45, 50, 55, 40, 60, 50, 45, 55, 40, 50, 60, 45,
     55, 50, 40, 60, 45, 50, 55, 40, 60, 50, 45, 55, 40, 50, 60, 45, 55, 50, 40, 60,
     45, 50, 55, 40, 60, 50, 45, 55, 40, 50, 60, 45, 55, 50, 40, 60, 45, 50, 55, 50],
    [40, 50, 35, 45, 55, 40, 45, 35, 50, 45, 40, 55, 35, 45, 50, 40, 35, 55, 45, 40,
     50, 35, 45, 55, 40, 50, 35, 45, 40, 55, 45, 35, 50, 40, 45, 55, 35, 40, 50, 45,
     35, 55, 40, 45, 50, 35, 40, 55, 45, 40, 50, 35, 45, 55, 40, 45, 35, 50, 45, 40,
     55, 35, 45, 50, 40, 35, 55, 45, 40, 50, 35, 45, 55, 40, 50, 35, 45, 40, 55, 45,
     35, 50, 40, 45, 55, 35, 40, 50, 45, 35, 55, 40, 45, 50, 35, 40, 55, 45, 40, 45],
]

# ---------------- row 3, left : Obama ----------------
r3l_obama = [
    [112, 122, 128, 124, 118, 123, 130, 125, 117, 122, 118, 120, 124, 126, 128, 125, 121, 123, 119, 125,
     120, 118, 124, 122, 116, 110, 120, 123, 122, 122, 120, 125, 118, 126, 122, 120, 124, 118, 126, 120,
     113, 120, 125, 118, 122, 124, 120, 126, 118, 122, 128, 122, 125, 120, 126, 130, 124, 118, 122, 125,
     112, 124, 118, 128, 113, 125, 122, 116, 124, 120, 125, 118, 124, 115, 125, 120, 124, 116, 126, 132,
     130, 122, 128, 125, 132, 124, 120, 122, 120, 124, 122, 125, 116, 124, 126, 122, 125, 114, 120, 118],
    [26, 27, 25, 26, 28, 26, 25, 27, 26, 25, 26, 27, 25, 26, 27, 26, 25, 26, 28, 26,
     25, 26, 27, 25, 26, 27, 26, 25, 26, 27, 26, 25, 27, 26, 25, 26, 27, 26, 25, 26,
     27, 25, 26, 27, 26, 25, 26, 25, 27, 26, 25, 26, 27, 26, 28, 26, 25, 26, 27, 25,
     26, 27, 25, 26, 27, 26, 25, 26, 27, 25, 26, 27, 26, 25, 26, 27, 26, 25, 27, 26,
     25, 26, 27, 26, 25, 26, 27, 26, 25, 26, 27, 25, 26, 27, 26, 25, 26, 27, 26, 26],
    [24, 23, 26, 25, 24, 26, 25, 23, 25, 24, 26, 25, 24, 23, 25, 26, 24, 25, 28, 24,
     26, 23, 25, 24, 26, 25, 22, 25, 24, 26, 25, 24, 23, 26, 25, 24, 26, 25, 27, 24,
     25, 23, 26, 24, 25, 26, 24, 23, 25, 24, 26, 25, 24, 26, 25, 27, 24, 25, 23, 26,
     24, 25, 26, 24, 23, 25, 24, 26, 25, 24, 23, 25, 26, 24, 25, 24, 26, 25, 24, 26,
     25, 27, 24, 25, 26, 24, 25, 23, 25, 26, 24, 25, 24, 26, 25, 23, 25, 24, 26, 25],
    [12, 13, 11, 14, 12, 11, 13, 12, 14, 11, 12, 13, 12, 11, 14, 12, 13, 11, 12, 14,
     12, 11, 13, 12, 11, 13, 12, 14, 11, 12, 13, 12, 11, 13, 12, 14, 11, 12, 13, 11,
     12, 14, 12, 11, 13, 12, 11, 14, 12, 13, 11, 12, 14, 12, 11, 13, 12, 11, 14, 12,
     13, 11, 12, 14, 12, 13, 11, 12, 13, 12, 11, 14, 12, 11, 13, 12, 14, 11, 12, 13,
     12, 11, 14, 12, 13, 11, 12, 13, 12, 11, 14, 12, 11, 13, 12, 12, 11, 13, 12, 12],
    [11, 10, 12, 11, 13, 10, 11, 12, 10, 11, 13, 11, 10, 12, 11, 10, 12, 11, 13, 10,
     11, 12, 10, 11, 12, 11, 10, 13, 11, 12, 10, 11, 12, 10, 11, 13, 11, 10, 12, 11,
     10, 12, 11, 13, 10, 11, 12, 10, 11, 12, 11, 10, 13, 11, 12, 10, 11, 12, 11, 10,
     12, 11, 13, 10, 11, 12, 10, 11, 12, 11, 10, 13, 11, 12, 10, 11, 12, 11, 10, 12,
     11, 13, 10, 11, 12, 10, 11, 12, 11, 10, 13, 11, 12, 10, 11, 12, 11, 10, 11, 11],
    [10, 9, 11, 10, 9, 11, 10, 12, 9, 10, 11, 9, 10, 11, 10, 9, 11, 10, 9, 12,
     10, 9, 11, 10, 9, 10, 11, 9, 10, 12, 10, 9, 11, 10, 9, 11, 10, 9, 10, 11,
     9, 10, 12, 10, 9, 11, 10, 9, 10, 11, 10, 9, 11, 10, 9, 12, 10, 9, 11, 10,
     9, 10, 11, 9, 10, 12, 10, 9, 11, 10, 9, 11, 10, 9, 10, 11, 9, 10, 12, 10,
     9, 11, 10, 9, 11, 10, 9, 10, 11, 9, 10, 12, 10, 9, 11, 10, 9, 10, 10, 10],
    [9, 11, 14, 10, 9, 12, 10, 13, 9, 11, 12, 10, 16, 11, 9, 13, 10, 12, 9, 11,
     13, 10, 9, 12, 11, 10, 13, 9, 11, 12, 10, 9, 11, 13, 10, 12, 9, 11, 10, 12,
     9, 11, 13, 10, 9, 12, 11, 10, 9, 12, 10, 11, 9, 13, 10, 11, 12, 9, 10, 11,
     13, 10, 9, 11, 12, 10, 13, 9, 11, 10, 12, 9, 11, 10, 12, 9, 11, 13, 10, 9,
     11, 12, 10, 9, 11, 10, 12, 9, 11, 10, 9, 12, 10, 11, 9, 10, 12, 11, 9, 10],
    [9, 8, 10, 9, 8, 9, 11, 8, 9, 10, 8, 9, 10, 9, 8, 10, 9, 8, 9, 10,
     8, 9, 10, 8, 9, 11, 9, 8, 10, 9, 8, 9, 10, 8, 9, 10, 9, 8, 10, 9,
     8, 10, 9, 8, 9, 10, 8, 9, 11, 9, 8, 10, 9, 8, 9, 10, 8, 9, 10, 9,
     8, 9, 10, 8, 9, 11, 9, 8, 10, 9, 8, 9, 10, 8, 9, 10, 9, 8, 10, 9,
     8, 9, 10, 8, 9, 10, 9, 8, 9, 10, 8, 9, 11, 9, 8, 10, 9, 8, 9, 9],
    [7, 8, 7, 6, 7, 8, 7, 6, 8, 7, 6, 7, 8, 7, 6, 7, 8, 6, 7, 8,
     7, 6, 7, 8, 7, 6, 8, 7, 6, 7, 8, 7, 6, 7, 8, 7, 6, 8, 7, 6,
     7, 8, 7, 6, 7, 8, 6, 7, 8, 7, 6, 7, 8, 7, 6, 8, 7, 6, 7, 8,
     7, 6, 7, 8, 7, 6, 8, 7, 6, 7, 8, 7, 6, 7, 8, 6, 7, 8, 7, 6,
     7, 8, 7, 6, 8, 7, 6, 7, 8, 7, 6, 7, 8, 6, 7, 8, 7, 6, 7, 7],
    [6, 5, 6, 7, 5, 6, 5, 7, 6, 5, 6, 5, 7, 6, 5, 6, 7, 5, 6, 5,
     6, 7, 5, 6, 5, 6, 7, 5, 6, 5, 7, 6, 5, 6, 5, 7, 6, 5, 6, 7,
     5, 6, 5, 6, 7, 5, 6, 5, 7, 6, 5, 6, 7, 5, 6, 5, 6, 7, 5, 6,
     5, 7, 6, 5, 6, 5, 7, 6, 5, 6, 7, 5, 6, 5, 6, 7, 5, 6, 5, 7,
     6, 5, 6, 7, 5, 6, 5, 6, 7, 5, 6, 5, 7, 6, 5, 6, 5, 7, 6, 6],
]

# ---------------- row 3, left : War ----------------
r3l_war = [
    [305, 310, 325, 300, 340, 310, 345, 320, 305, 310, 310, 320, 315, 310, 335, 320, 330, 310, 320, 300,
     305, 340, 320, 330, 295, 310, 320, 295, 310, 300, 320, 295, 330, 310, 290, 320, 295, 295, 310, 330,
     345, 320, 310, 295, 300, 325, 310, 300, 310, 310, 320, 305, 330, 300, 305, 335, 320, 300, 330, 305,
     310, 330, 300, 325, 310, 310, 330, 305, 310, 310, 325, 290, 335, 270, 320, 310, 280, 310, 325, 320,
     270, 295, 285, 290, 310, 315, 335, 330, 300, 295, 325, 345, 325, 310, 300, 320, 305, 325, 275, 300],
    [135, 140, 132, 138, 145, 136, 130, 142, 138, 134, 140, 146, 133, 137, 141, 135, 131, 143, 138, 134,
     140, 136, 144, 132, 138, 141, 135, 130, 139, 143, 136, 140, 133, 138, 145, 135, 131, 142, 137, 140,
     134, 139, 145, 133, 137, 141, 135, 130, 140, 143, 136, 138, 132, 141, 135, 144, 137, 131, 139, 142,
     134, 138, 145, 132, 137, 140, 135, 143, 131, 138, 141, 135, 146, 133, 139, 136, 142, 131, 138, 144,
     135, 139, 132, 141, 137, 143, 134, 140, 136, 131, 142, 138, 135, 144, 133, 139, 136, 141, 134, 138],
    [128, 132, 125, 130, 135, 127, 131, 124, 133, 129, 126, 134, 128, 131, 125, 130, 136, 127, 132, 124,
     130, 133, 126, 129, 135, 127, 131, 124, 132, 128, 126, 134, 129, 131, 125, 130, 136, 128, 132, 124,
     131, 127, 133, 126, 129, 135, 128, 131, 125, 132, 127, 130, 134, 126, 129, 133, 128, 131, 124, 130,
     135, 127, 132, 126, 129, 134, 128, 131, 125, 130, 133, 127, 129, 135, 126, 131, 128, 132, 124, 130,
     134, 127, 131, 126, 129, 133, 128, 132, 125, 130, 135, 127, 131, 126, 129, 134, 128, 132, 126, 130],
    [120, 148, 126, 118, 134, 122, 140, 115, 128, 136, 119, 130, 142, 117, 126, 138, 121, 132, 114, 127,
     139, 118, 130, 124, 143, 116, 128, 135, 120, 131, 118, 140, 125, 133, 115, 129, 137, 119, 126, 144,
     121, 133, 117, 128, 139, 122, 131, 116, 126, 142, 118, 130, 124, 137, 115, 128, 134, 120, 131, 126,
     139, 165, 118, 127, 135, 121, 132, 117, 129, 140, 122, 130, 116, 134, 125, 138, 119, 128, 142, 121,
     131, 117, 136, 124, 129, 140, 118, 127, 135, 121, 150, 124, 133, 119, 142, 126, 131, 118, 136, 128],
    [110, 116, 106, 113, 119, 108, 115, 104, 112, 118, 107, 114, 110, 105, 117, 111, 108, 115, 103, 112,
     118, 107, 113, 109, 116, 105, 112, 119, 108, 114, 106, 111, 117, 104, 113, 109, 115, 107, 112, 118,
     105, 111, 116, 108, 114, 103, 112, 117, 109, 113, 106, 115, 110, 104, 118, 111, 107, 114, 109, 116,
     105, 112, 118, 108, 113, 106, 115, 110, 104, 117, 111, 108, 114, 106, 112, 118, 109, 113, 105, 116,
     110, 107, 115, 112, 104, 117, 109, 113, 106, 114, 110, 105, 118, 112, 108, 115, 107, 111, 104, 112],
    [97, 102, 95, 100, 104, 96, 99, 93, 101, 98, 103, 95, 99, 102, 96, 100, 94, 101, 97, 103,
     95, 99, 102, 96, 100, 93, 98, 101, 97, 104, 95, 99, 96, 102, 98, 94, 100, 97, 103, 96,
     99, 95, 101, 98, 102, 94, 97, 100, 96, 103, 99, 95, 98, 101, 96, 100, 94, 98, 102, 97,
     95, 100, 96, 99, 103, 95, 98, 101, 97, 94, 100, 96, 99, 102, 95, 98, 101, 96, 100, 94,
     98, 102, 97, 95, 100, 96, 99, 103, 95, 98, 101, 97, 94, 100, 96, 99, 102, 95, 98, 97],
    [88, 95, 84, 92, 99, 86, 93, 89, 82, 96, 90, 87, 94, 83, 91, 98, 85, 92, 88, 95,
     81, 90, 97, 86, 93, 84, 91, 99, 87, 94, 82, 90, 96, 85, 92, 88, 83, 95, 89, 86,
     93, 98, 84, 91, 87, 95, 82, 90, 94, 86, 92, 89, 84, 96, 88, 91, 85, 93, 98, 87,
     90, 83, 95, 89, 86, 92, 97, 84, 91, 88, 94, 82, 90, 96, 85, 93, 87, 91, 84, 95,
     89, 86, 92, 98, 84, 90, 87, 94, 83, 91, 96, 86, 92, 88, 85, 95, 89, 83, 91, 87],
    [76, 70, 80, 73, 68, 78, 74, 82, 70, 76, 72, 79, 67, 75, 81, 71, 77, 69, 74, 80,
     72, 78, 68, 75, 71, 82, 73, 77, 69, 76, 80, 70, 74, 78, 66, 75, 71, 79, 73, 76,
     69, 81, 72, 77, 70, 75, 79, 68, 74, 71, 78, 73, 76, 69, 80, 72, 75, 70, 77, 74,
     68, 79, 71, 76, 73, 80, 70, 75, 72, 78, 69, 74, 77, 71, 79, 73, 68, 76, 72, 80,
     74, 70, 77, 73, 79, 69, 75, 71, 78, 65, 74, 76, 70, 79, 72, 75, 68, 77, 73, 71],
    [72, 68, 75, 70, 66, 73, 69, 76, 71, 67, 74, 70, 65, 72, 77, 69, 71, 66, 74, 70,
     68, 75, 71, 67, 73, 69, 76, 70, 66, 72, 74, 68, 71, 65, 73, 70, 67, 75, 71, 69,
     72, 66, 74, 70, 68, 76, 71, 67, 73, 69, 65, 72, 75, 70, 68, 73, 71, 66, 74, 69,
     72, 67, 75, 70, 68, 73, 66, 71, 74, 69, 72, 67, 70, 75, 68, 71, 73, 66, 70, 74,
     69, 72, 67, 75, 70, 68, 73, 71, 66, 60, 72, 69, 74, 67, 71, 73, 68, 70, 72, 69],
    [63, 58, 66, 61, 57, 64, 60, 62, 56, 65, 61, 58, 63, 66, 59, 61, 64, 57, 62, 60,
     65, 58, 61, 63, 57, 64, 60, 62, 66, 58, 61, 63, 59, 65, 60, 57, 62, 64, 58, 61,
     63, 60, 57, 65, 61, 59, 63, 66, 58, 62, 60, 64, 57, 61, 63, 59, 65, 60, 62, 58,
     64, 61, 57, 63, 60, 65, 59, 62, 58, 64, 61, 57, 63, 60, 66, 58, 62, 61, 59, 64,
     60, 57, 63, 61, 65, 58, 62, 60, 64, 57, 61, 63, 59, 55, 62, 60, 64, 58, 61, 62],
]

# ---------------- row 3, right : Obama ----------------
r3r_obama = [
    [106, 89, 112, 95, 81, 90, 81, 100, 80, 112, 75, 102, 88, 90, 78, 85, 98, 73, 75, 90,
     110, 105, 92, 80, 81, 84, 82, 83, 88, 82, 73, 80, 85, 77, 90, 76, 104, 82, 95, 104,
     92, 95, 98, 90, 100, 105, 90, 82, 90, 96, 87, 92, 75, 102, 54, 80, 85, 66, 90, 96,
     67, 85, 93, 99, 80, 90, 94, 78, 90, 85, 85, 92, 100, 98, 100, 90, 96, 82, 70, 100,
     112, 95, 85, 72, 96, 100, 96, 69, 90, 85, 80, 80, 90, 80, 80, 90, 108, 92, 95, 101],
    [18, 20, 16, 22, 17, 19, 15, 21, 18, 24, 16, 19, 17, 21, 15, 18, 20, 16, 22, 19,
     17, 21, 18, 15, 20, 17, 19, 22, 16, 18, 20, 17, 15, 19, 21, 18, 16, 20, 17, 19,
     22, 18, 16, 20, 17, 15, 19, 18, 21, 16, 20, 17, 14, 19, 13, 18, 15, 17, 20, 16,
     24, 19, 17, 21, 18, 16, 20, 17, 19, 15, 21, 18, 16, 20, 17, 19, 22, 18, 16, 20,
     17, 19, 15, 21, 18, 16, 20, 17, 19, 15, 18, 21, 17, 16, 20, 18, 15, 19, 17, 18],
    [21, 24, 19, 23, 20, 17, 22, 19, 24, 18, 21, 16, 23, 20, 18, 22, 19, 16, 21, 18,
     25, 22, 19, 17, 24, 20, 18, 22, 19, 17, 21, 20, 23, 19, 25, 18, 21, 20, 23, 19,
     32, 24, 20, 22, 18, 21, 19, 17, 22, 16, 20, 18, 13, 17, 15, 19, 16, 20, 18, 21,
     19, 17, 22, 18, 20, 23, 19, 21, 17, 20, 22, 18, 20, 23, 21, 19, 26, 21, 19, 17,
     22, 19, 18, 21, 17, 20, 23, 18, 21, 24, 19, 21, 17, 20, 22, 18, 21, 17, 19, 20],
    [12, 10, 14, 11, 13, 9, 12, 15, 10, 13, 11, 14, 9, 12, 13, 10, 15, 11, 12, 9,
     14, 11, 13, 10, 12, 15, 9, 13, 11, 12, 14, 10, 13, 9, 12, 15, 11, 10, 13, 12,
     9, 14, 11, 13, 10, 12, 15, 11, 9, 13, 12, 10, 14, 11, 13, 9, 12, 10, 15, 11,
     13, 12, 9, 14, 11, 10, 13, 12, 15, 9, 11, 13, 10, 12, 14, 11, 9, 13, 12, 10,
     15, 11, 13, 9, 12, 14, 10, 11, 13, 12, 9, 15, 11, 10, 13, 12, 14, 9, 11, 12],
    [10, 8, 11, 9, 12, 8, 10, 7, 11, 9, 13, 8, 10, 12, 9, 7, 11, 10, 8, 12,
     9, 11, 7, 10, 13, 8, 9, 11, 10, 7, 12, 9, 8, 11, 10, 13, 8, 9, 12, 10,
     7, 11, 9, 8, 12, 10, 11, 7, 9, 13, 10, 8, 11, 9, 12, 7, 10, 8, 11, 9,
     12, 10, 8, 13, 9, 11, 7, 10, 12, 8, 9, 11, 10, 13, 8, 9, 12, 10, 7, 11,
     9, 12, 8, 10, 11, 7, 9, 13, 10, 8, 11, 9, 12, 10, 8, 11, 9, 7, 12, 10],
    [8, 7, 9, 6, 10, 8, 7, 9, 5, 8, 10, 7, 9, 6, 8, 11, 7, 9, 8, 6,
     10, 8, 7, 9, 6, 8, 10, 7, 9, 8, 5, 9, 7, 10, 8, 6, 9, 7, 8, 10,
     6, 8, 9, 7, 10, 8, 6, 9, 7, 8, 5, 9, 8, 10, 7, 6, 9, 8, 7, 10,
     8, 6, 9, 7, 8, 10, 7, 9, 6, 8, 9, 7, 10, 8, 6, 9, 8, 7, 10, 8,
     6, 9, 7, 8, 10, 7, 9, 6, 8, 9, 7, 10, 8, 6, 9, 7, 8, 10, 7, 8],
    [9, 18, 7, 12, 8, 11, 6, 10, 13, 8, 11, 7, 14, 9, 12, 6, 10, 8, 13, 7,
     11, 9, 6, 12, 10, 8, 14, 7, 11, 9, 12, 6, 10, 13, 8, 16, 9, 11, 7, 12,
     10, 8, 13, 6, 11, 9, 12, 7, 10, 14, 8, 11, 6, 12, 9, 10, 13, 7, 11, 8,
     12, 9, 6, 11, 14, 8, 10, 7, 12, 9, 11, 6, 13, 10, 8, 12, 7, 11, 9, 16,
     8, 10, 13, 7, 11, 9, 6, 12, 10, 8, 13, 7, 11, 9, 12, 6, 10, 14, 8, 11],
    [7, 5, 8, 6, 4, 9, 7, 5, 8, 3, 7, 9, 6, 4, 8, 7, 5, 9, 6, 4,
     8, 7, 5, 9, 6, 8, 4, 7, 9, 5, 6, 8, 7, 4, 9, 6, 5, 8, 7, 9,
     4, 6, 8, 5, 7, 9, 6, 4, 8, 7, 5, 9, 6, 8, 4, 7, 5, 9, 6, 8,
     7, 4, 9, 5, 6, 8, 7, 5, 9, 4, 6, 8, 7, 5, 9, 6, 4, 8, 7, 5,
     9, 6, 8, 4, 7, 5, 9, 6, 8, 7, 4, 6, 9, 5, 8, 7, 6, 4, 9, 7],
    [6, 5, 7, 4, 6, 8, 5, 6, 7, 4, 6, 5, 8, 6, 4, 7, 5, 6, 8, 5,
     6, 4, 7, 5, 6, 8, 5, 4, 7, 6, 5, 8, 6, 4, 7, 5, 6, 7, 4, 6,
     5, 8, 6, 4, 7, 5, 6, 8, 5, 6, 4, 7, 6, 5, 8, 6, 4, 7, 5, 6,
     8, 5, 6, 4, 7, 6, 5, 8, 6, 4, 7, 5, 6, 8, 5, 6, 4, 7, 6, 5,
     8, 6, 4, 7, 5, 6, 7, 4, 6, 5, 8, 6, 4, 7, 5, 6, 8, 5, 6, 5],
    [5, 6, 4, 5, 7, 4, 5, 6, 5, 4, 6, 5, 7, 4, 5, 6, 4, 5, 6, 7,
     4, 5, 6, 5, 4, 7, 5, 6, 4, 5, 6, 5, 7, 4, 5, 6, 5, 4, 6, 5,
     7, 5, 4, 6, 5, 6, 4, 5, 7, 5, 4, 6, 5, 5, 6, 4, 7, 5, 6, 4,
     5, 6, 5, 7, 4, 5, 6, 4, 5, 7, 5, 6, 4, 5, 6, 5, 7, 4, 6, 5,
     4, 6, 5, 7, 5, 4, 6, 5, 4, 6, 5, 7, 4, 5, 6, 5, 4, 6, 5, 4],
]

# ---------------- row 3, right : War ----------------
r3r_war = [
    [305, 260, 210, 230, 255, 240, 250, 200, 170, 210, 170, 240, 280, 200, 245, 200, 215, 220, 300, 180,
     270, 180, 215, 170, 195, 200, 195, 270, 240, 165, 245, 235, 265, 270, 360, 250, 240, 295, 180, 290,
     215, 140, 240, 260, 265, 295, 160, 245, 215, 230, 255, 270, 290, 230, 200, 165, 245, 275, 285, 225,
     200, 285, 215, 190, 220, 205, 160, 205, 225, 245, 245, 240, 265, 200, 240, 265, 260, 175, 340, 210,
     150, 265, 230, 265, 235, 230, 270, 200, 360, 185, 215, 200, 235, 190, 310, 320, 250, 250, 255, 200],
    [110, 120, 115, 130, 145, 125, 140, 150, 120, 105, 130, 115, 125, 165, 175, 120, 110, 135, 125, 105,
     120, 130, 110, 125, 115, 105, 120, 135, 110, 125, 115, 140, 130, 120, 150, 125, 175, 160, 120, 110,
     130, 115, 140, 120, 105, 125, 130, 110, 120, 135, 115, 125, 110, 140, 120, 105, 125, 115, 130, 120,
     110, 125, 140, 115, 105, 120, 130, 110, 125, 145, 120, 115, 130, 110, 125, 120, 135, 110, 115, 130,
     120, 105, 125, 115, 140, 130, 110, 120, 125, 115, 130, 120, 145, 110, 125, 220, 140, 150, 130, 115],
    [100, 115, 95, 110, 105, 90, 120, 100, 95, 115, 105, 90, 110, 100, 125, 95, 105, 115, 90, 110,
     100, 95, 120, 105, 90, 110, 100, 115, 95, 105, 125, 90, 110, 100, 95, 115, 105, 90, 120, 100,
     95, 110, 105, 90, 115, 100, 95, 120, 105, 90, 110, 100, 115, 95, 105, 120, 90, 110, 100, 95,
     115, 105, 90, 110, 100, 120, 95, 105, 115, 90, 110, 100, 95, 115, 105, 90, 120, 100, 95, 110,
     105, 90, 115, 100, 95, 120, 105, 90, 110, 100, 115, 95, 105, 90, 120, 100, 95, 110, 105, 95],
    [130, 95, 110, 85, 120, 100, 90, 125, 95, 110, 85, 105, 120, 90, 115, 100, 85, 125, 95, 110,
     100, 90, 120, 105, 85, 115, 95, 130, 100, 90, 110, 120, 85, 105, 130, 95, 110, 90, 120, 100,
     85, 115, 95, 105, 125, 90, 110, 100, 85, 120, 95, 110, 105, 90, 125, 100, 85, 115, 95, 110,
     120, 90, 100, 105, 85, 115, 95, 125, 100, 90, 110, 120, 85, 105, 95, 115, 100, 90, 125, 95,
     110, 85, 105, 120, 90, 115, 100, 85, 125, 95, 110, 100, 90, 120, 105, 85, 115, 95, 110, 100],
    [90, 100, 80, 95, 85, 105, 75, 90, 100, 85, 95, 80, 105, 90, 75, 100, 85, 95, 80, 90,
     105, 85, 75, 95, 100, 80, 90, 105, 85, 95, 75, 100, 90, 80, 95, 105, 85, 75, 100, 90,
     80, 95, 105, 85, 90, 75, 100, 95, 80, 90, 105, 85, 75, 95, 100, 80, 90, 85, 105, 95,
     75, 90, 100, 80, 95, 85, 105, 75, 90, 100, 85, 95, 80, 105, 90, 75, 100, 85, 95, 80,
     90, 105, 85, 75, 95, 100, 80, 90, 105, 85, 95, 75, 100, 90, 80, 95, 105, 85, 75, 90],
    [85, 75, 95, 70, 90, 80, 100, 75, 85, 95, 70, 80, 90, 100, 75, 85, 70, 95, 80, 90,
     75, 100, 85, 70, 90, 80, 95, 75, 85, 100, 70, 90, 80, 95, 75, 85, 90, 70, 100, 80,
     85, 75, 95, 90, 70, 80, 100, 85, 75, 90, 95, 70, 80, 85, 100, 75, 90, 70, 95, 85,
     80, 75, 100, 90, 70, 85, 95, 80, 75, 90, 100, 70, 85, 80, 95, 75, 90, 100, 70, 85,
     80, 95, 75, 90, 85, 70, 100, 80, 95, 75, 90, 85, 70, 100, 80, 95, 75, 85, 90, 80],
    [95, 80, 105, 70, 120, 90, 75, 110, 85, 100, 70, 115, 80, 95, 105, 75, 120, 90, 80, 100,
     70, 110, 95, 85, 120, 75, 100, 90, 115, 70, 85, 105, 95, 75, 120, 80, 110, 90, 70, 100,
     85, 115, 75, 95, 105, 80, 120, 70, 90, 110, 85, 100, 75, 115, 95, 80, 105, 70, 120, 90,
     85, 100, 75, 110, 95, 80, 120, 70, 105, 90, 85, 115, 75, 100, 95, 80, 110, 70, 120, 90,
     85, 105, 75, 100, 115, 80, 95, 70, 110, 90, 85, 120, 75, 100, 95, 80, 105, 70, 90, 85],
    [50, 35, 60, 40, 30, 55, 45, 35, 65, 40, 25, 55, 45, 35, 60, 30, 50, 40, 65, 35,
     45, 55, 30, 50, 40, 60, 35, 45, 55, 30, 65, 40, 50, 35, 45, 60, 30, 55, 20, 50,
     40, 65, 35, 45, 55, 30, 50, 40, 60, 35, 45, 55, 30, 65, 40, 50, 35, 45, 60, 30,
     55, 40, 50, 35, 65, 45, 30, 55, 40, 50, 35, 60, 45, 30, 55, 40, 65, 35, 45, 50,
     30, 60, 40, 55, 35, 45, 65, 30, 50, 40, 55, 35, 45, 60, 30, 25, 50, 40, 55, 45],
    [60, 75, 50, 65, 80, 55, 70, 45, 60, 75, 55, 65, 80, 50, 70, 60, 45, 75, 65, 55,
     80, 60, 50, 70, 65, 45, 75, 55, 60, 80, 50, 70, 65, 55, 45, 75, 60, 80, 50, 65,
     70, 55, 45, 75, 60, 65, 80, 50, 70, 55, 60, 75, 45, 65, 80, 55, 70, 50, 60, 75,
     65, 45, 80, 55, 70, 60, 50, 75, 65, 55, 80, 45, 70, 60, 65, 75, 50, 55, 80, 60,
     70, 45, 65, 75, 55, 60, 80, 50, 70, 65, 45, 75, 60, 55, 80, 50, 70, 65, 60, 75],
    [40, 55, 65, 50, 60, 45, 70, 55, 50, 65, 40, 60, 55, 70, 45, 50, 65, 60, 40, 55,
     70, 50, 45, 65, 60, 55, 40, 70, 50, 60, 65, 45, 55, 70, 40, 60, 50, 65, 55, 45,
     70, 60, 40, 55, 65, 50, 45, 70, 60, 55, 40, 65, 50, 60, 70, 45, 55, 65, 40, 60,
     50, 70, 55, 45, 65, 60, 40, 55, 70, 50, 60, 45, 65, 55, 40, 70, 60, 50, 45, 65,
     55, 70, 40, 60, 50, 65, 45, 55, 70, 60, 40, 50, 65, 55, 45, 70, 60, 40, 50, 55],
]

# ------------------------------------------------------------------
W, H = 1078, 1135
fig = plt.figure(figsize=(W / 100, H / 100), dpi=100)
fig.patch.set_facecolor("white")

BOX_W, BOX_H = 190.0, 210.7
ROW_TOP = [74.3, 479.3, 884.3]
COL_X = [[46.7, 299.0], [636.0, 888.3]]
TITLE_CX = [257, 847]
TITLE_FONT = ["cmb10", "DejaVu Serif"]
SMALL = 7.0


def add_px_axes(x, ytop):
    return fig.add_axes([x / W, 1 - (ytop + BOX_H) / H, BOX_W / W, BOX_H / H])


def draw_panel(ax, series, unit, ymax, yticks, truth, title):
    xlo, xhi = 1, 110
    pad = 0.04 * (xhi - xlo)
    ax.set_xlim(xlo - pad, xhi + pad)
    ax.set_ylim(-0.04 * ymax, ymax * 1.04)
    for vals, col in zip(series, COLORS):
        y = np.asarray(vals, dtype=float) * unit
        ax.plot(np.arange(1, len(y) + 1), y, color=col, lw=0.95)
    for t, col in zip(truth, COLORS):
        ax.plot([102.5, 130], [t, t], color=col, lw=1.2, solid_capstyle="butt")
    ax.set_xticks([0, 20, 40, 60, 80, 100])
    ax.set_yticks(yticks)
    ax.set_yticklabels([f"{v:.2f}" for v in yticks], rotation=90, va="center")
    ax.tick_params(direction="out", length=4.3, width=0.7, labelsize=SMALL, pad=3.0,
                   colors="black", labelcolor="#222222")
    for sp in ax.spines.values():
        sp.set_linewidth(0.75)
        sp.set_color("black")
    ax.text(0.5, 1 + (74.3 - 55) / BOX_H, title, transform=ax.transAxes,
            ha="center", va="center", fontsize=7, fontweight="bold")
    ax.text(0.5, -(320 - 285) / BOX_H, "Split", transform=ax.transAxes,
            ha="center", va="center", fontsize=SMALL, color="#222222")
    ax.text(-(46.7 - 12.7) / BOX_W, 0.5, "beta", transform=ax.transAxes,
            ha="center", va="center", rotation=90, fontsize=SMALL, color="#222222")


panel_data = [[(r1l_obama, r1l_war), (r1r_obama, r1r_war)],
              [(r2l_obama, r2l_war), (r2r_obama, r2r_war)],
              [(r3l_obama, r3l_war), (r3r_obama, r3r_war)]]

obama_ticks = [0.00, 0.05, 0.10, 0.15, 0.20]
war_ticks = [0.00, 0.01, 0.02, 0.03, 0.04, 0.05]

for r in range(3):
    for c in range(2):
        ob, wa = panel_data[r][c]
        ax1 = add_px_axes(COL_X[c][0], ROW_TOP[r])
        draw_panel(ax1, ob, OBAMA_UNIT, 0.20, obama_ticks, true_obama, "Beta: Obama")
        ax2 = add_px_axes(COL_X[c][1], ROW_TOP[r])
        draw_panel(ax2, wa, WAR_UNIT, 0.05, war_ticks, true_war, "Beta: War")

        lines = group_titles[r][c].split("\n")
        base2 = 32 + 405 * r
        bases = [base2 - 40 * (len(lines) - 1 - i) for i in range(len(lines))]
        for txt, b in zip(lines, bases):
            fig.text(TITLE_CX[c] / W, 1 - b / H, txt, ha="center", va="baseline",
                     fontsize=24, family=TITLE_FONT, fontweight="bold")

fig.savefig("out.png", dpi=100, facecolor="white")
